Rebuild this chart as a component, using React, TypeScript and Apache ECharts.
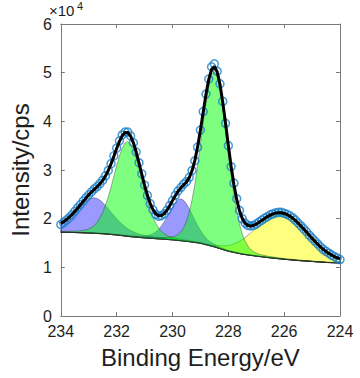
import React, { useEffect, useRef } from 'react';
import * as echarts from 'echarts';

// Binding energy grid (eV), 234 -> 224 in 0.1 eV steps
const energyStart = 234;
const energyStep = 0.1;
const pointCount = 101;
const energies: number[] = Array.from({ length: pointCount }, (_, i) => +(energyStart - i * energyStep).toFixed(1));

const intensity: number[] = [
  1.88, 1.92, 1.97, 2.02, 2.08, 2.15, 2.22, 2.29, 2.36, 2.43,
  2.49, 2.55, 2.61, 2.66, 2.72, 2.79, 2.88, 2.99, 3.13, 3.29,
  3.45, 3.60, 3.72, 3.78, 3.78, 3.70, 3.56, 3.37, 3.15, 2.92,
  2.69, 2.48, 2.31, 2.18, 2.09, 2.05, 2.06, 2.10, 2.17, 2.27,
  2.37, 2.48, 2.57, 2.64, 2.71, 2.76, 2.85, 2.99, 3.19, 3.47,
  3.82, 4.20, 4.56, 4.87, 5.12, 5.18, 5.03, 4.77, 4.41, 3.96,
  3.50, 3.07, 2.73, 2.41, 2.17, 2.00, 1.91, 1.86, 1.85, 1.86,
  1.89, 1.93, 1.97, 2.01, 2.04, 2.08, 2.10, 2.12, 2.13, 2.13,
  2.11, 2.09, 2.06, 2.02, 1.97, 1.91, 1.85, 1.79, 1.73, 1.66,
  1.60, 1.54, 1.48, 1.42, 1.37, 1.33, 1.29, 1.25, 1.22, 1.19,
  1.16,
];

// Background (x10^4 cps)
const background: number[] = [
  1.720, 1.719, 1.718, 1.717, 1.716, 1.715, 1.713, 1.711, 1.709, 1.707,
  1.705, 1.702, 1.699, 1.696, 1.693, 1.690, 1.685, 1.680, 1.675, 1.670,
  1.665, 1.658, 1.651, 1.644, 1.637, 1.630, 1.625, 1.620, 1.615, 1.610,
  1.605, 1.601, 1.597, 1.593, 1.589, 1.585, 1.581, 1.577, 1.573, 1.569,
  1.565, 1.559, 1.553, 1.547, 1.541, 1.535, 1.527, 1.519, 1.511, 1.503,
  1.495, 1.480, 1.465, 1.450, 1.435, 1.420, 1.402, 1.384, 1.366, 1.348,
  1.330, 1.318, 1.306, 1.294, 1.282, 1.270, 1.262, 1.254, 1.246, 1.238,
  1.230, 1.223, 1.216, 1.209, 1.202, 1.195, 1.189, 1.183, 1.177, 1.171,
  1.165, 1.160, 1.155, 1.150, 1.145, 1.140, 1.136, 1.132, 1.128, 1.124,
  1.120, 1.116, 1.112, 1.108, 1.104, 1.100, 1.098, 1.096, 1.094, 1.092,
  1.090,
];

// Fitted peak components (pseudo-Voigt), drawn in this order
const peakKinds: string[] = ['yellow', 'blue', 'blue', 'green', 'green'];
const peakCenters: number[] = [226.1, 232.8, 229.7, 231.6, 228.5];
const peakHeights: number[] = [0.92, 0.73, 0.86, 1.95, 3.6];
const peakFwhm: number[] = [2.2, 1.5, 1.05, 1.2, 1.1];
const peakLorentz: number[] = [0, 0.4, 0.25, 0.15, 0.1];

const xTicks = { min: 224, max: 234, interval: 2 };
const yTicks = { min: 0, max: 6, interval: 1 };

const fillColors: Record<string, string> = {
  yellow: 'rgba(255,255,0,0.5)',
  blue: 'rgba(0,0,255,0.4)',
  green: 'rgba(0,255,0,0.5)',
};

function pseudoVoigt(x: number, c: number, h: number, w: number, m: number): number {
  const u = Math.pow((2 * (x - c)) / w, 2);
  return h * ((1 - m) * Math.exp(-Math.LN2 * u) + m / (1 + u));
}

const FONT = "'Liberation Sans', Arial, Helvetica, sans-serif";
const AXIS_COLOR = '#7a7a7a';
const TEXT_COLOR = '#1e1e1e';

export default function App() {
  const ref = useRef<HTMLDivElement>(null);

  useEffect(() => {
    document.body.style.margin = '0';
    if (!ref.current) return;
    const chart = echarts.init(ref.current, null, { renderer: 'svg' });

    const components = peakCenters.map((c, k) =>
      energies.map((e) => pseudoVoigt(e, c, peakHeights[k], peakFwhm[k], peakLorentz[k]))
    );
    const envelope = energies.map((e, i) => {
      let s = background[i];
      components.forEach((comp) => (s += comp[i]));
      return [e, s];
    });

    const series: any[] = [];
    components.forEach((comp, k) => {
      series.push({
        type: 'custom',
        coordinateSystem: 'cartesian2d',
        data: [[energies[0], background[0]]],
        silent: true,
        z: 2,
        renderItem: (params: any, api: any) => {
          const pts: number[][] = [];
          for (let i = 0; i < energies.length; i++) pts.push(api.coord([energies[i], background[i] + comp[i]]));
          for (let i = energies.length - 1; i >= 0; i--) pts.push(api.coord([energies[i], background[i]]));
          return {
            type: 'polygon',
            shape: { points: pts },
            style: {
              fill: fillColors[peakKinds[k]],
              stroke: 'rgba(40,40,40,0.55)',
              lineWidth: 0.7,
            },
          };
        },
      });
    });
    series.push({
      type: 'line',
      data: energies.map((e, i) => [e, background[i]]),
      symbol: 'none',
      lineStyle: { color: 'rgba(40,40,40,0.7)', width: 0.8 },
      silent: true,
      z: 3,
    });
    series.push({
      type: 'scatter',
      data: energies.map((e, i) => [e, intensity[i]]),
      symbol: 'circle',
      symbolSize: 8,
      itemStyle: { color: 'rgba(0,0,0,0)', borderColor: '#1a7fc8', borderWidth: 1.5 },
      silent: true,
      z: 4,
    });
    series.push({
      type: 'line',
      data: envelope,
      symbol: 'none',
      lineStyle: { color: '#000', width: 3 },
      silent: true,
      z: 5,
    });

    const axisLine = { show: true, onZero: false, lineStyle: { color: AXIS_COLOR, width: 1 } };
    const axisTick = { show: true, inside: true, length: 4, lineStyle: { color: AXIS_COLOR, width: 1 } };

    chart.setOption({
      animation: false,
      backgroundColor: '#fff',
      grid: { left: 47, top: 24, width: 293, height: 292, containLabel: false },
      xAxis: [
        {
          type: 'value',
          position: 'bottom',
          inverse: true,
          ...xTicks,
          axisLine,
          axisTick,
          splitLine: { show: false },
          axisLabel: { fontSize: 16, color: TEXT_COLOR, fontFamily: FONT, margin: 7 },
          name: 'Binding Energy/eV',
          nameLocation: 'middle',
          nameGap: 29,
          nameTextStyle: { fontSize: 24, color: TEXT_COLOR, fontFamily: FONT },
        },
        {
          type: 'value',
          position: 'top',
          inverse: true,
          ...xTicks,
          axisLine,
          axisTick,
          splitLine: { show: false },
          axisLabel: { show: false },
        },
      ],
      yAxis: [
        {
          type: 'value',
          position: 'left',
          ...yTicks,
          axisLine,
          axisTick,
          splitLine: { show: false },
          axisLabel: { fontSize: 16, color: TEXT_COLOR, fontFamily: FONT, margin: 9 },
          name: 'Intensity/cps',
          nameLocation: 'middle',
          nameGap: 20,
          nameTextStyle: { fontSize: 24, color: TEXT_COLOR, fontFamily: FONT },
        },
        {
          type: 'value',
          position: 'right',
          ...yTicks,
          axisLine,
          axisTick,
          splitLine: { show: false },
          axisLabel: { show: false },
        },
      ],
      graphic: [
        { type: 'text', left: 49, top: 3, style: { text: '×10', fontSize: 15, fill: TEXT_COLOR, fontFamily: FONT } },
        { type: 'text', left: 77, top: 0, style: { text: '4', fontSize: 11, fill: TEXT_COLOR, fontFamily: FONT } },
      ],
      series,
    });

    return () => chart.dispose();
  }, []);

  return <div ref={ref} style={{ position: 'absolute', left: 0, top: 0, width: 360, height: 378 }} />;
}
